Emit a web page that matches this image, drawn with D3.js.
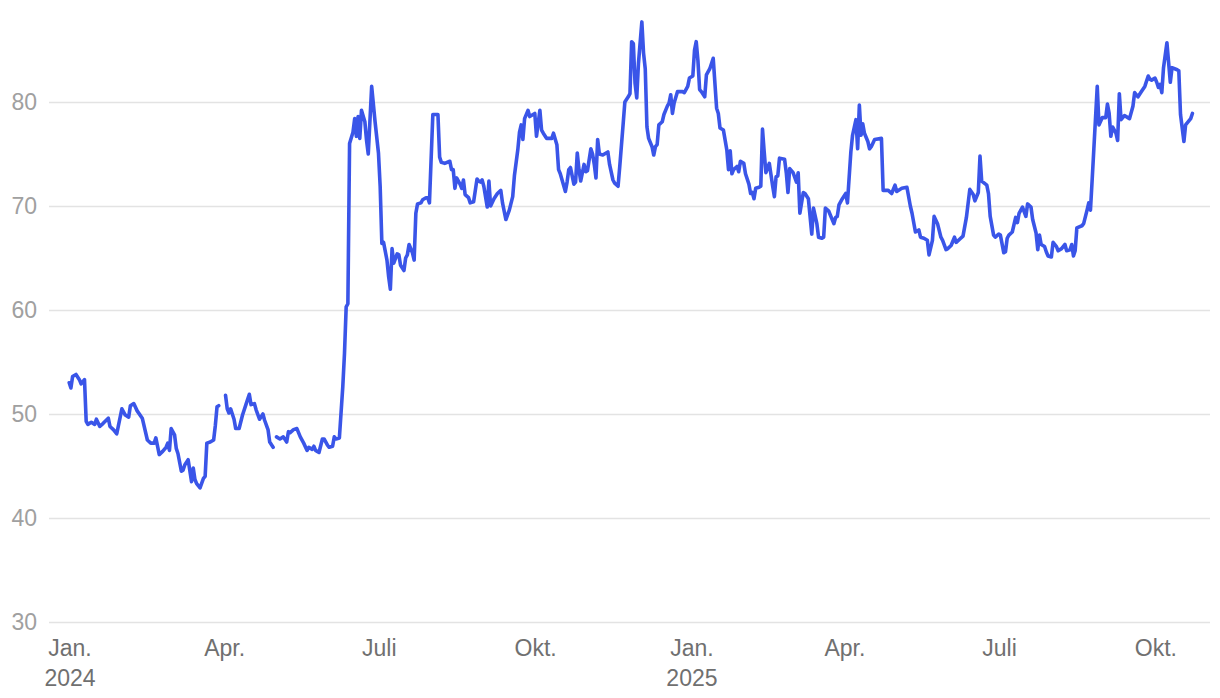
<!DOCTYPE html>
<html><head><meta charset="utf-8">
<script src="https://cdn.jsdelivr.net/npm/d3@7"></script>
<style>
html,body{margin:0;padding:0;background:#fff;}
svg{display:block;font-family:"Helvetica Neue",Helvetica,"Liberation Sans",Arial,sans-serif;}
</style></head><body>
<svg id="chart" width="1220" height="698"></svg>
<script>
// ---- data (date, value); null marks a gap in the line ----
const q1_2024 = [
["2024-01-02",53.0],["2024-01-03",52.5],["2024-01-04",53.6],["2024-01-06",53.8],["2024-01-08",53.3],["2024-01-09",52.9],["2024-01-11",53.3],["2024-01-12",49.3],["2024-01-13",49.0],["2024-01-15",49.2],["2024-01-17",49.0],["2024-01-18",49.5],["2024-01-20",48.8],["2024-01-22",49.1],["2024-01-25",49.6],["2024-01-26",48.8],["2024-01-28",48.5],["2024-01-30",48.1],["2024-01-31",48.9],
["2024-02-02",50.5],["2024-02-04",49.9],["2024-02-06",49.7],["2024-02-07",50.8],["2024-02-09",51.0],["2024-02-11",50.3],["2024-02-14",49.6],["2024-02-17",47.5],["2024-02-19",47.2],["2024-02-21",47.2],["2024-02-22",47.7],["2024-02-24",46.1],["2024-02-26",46.4],["2024-02-28",46.8],["2024-02-29",47.2],
["2024-03-01",46.5],["2024-03-02",48.6],["2024-03-04",48.0],["2024-03-05",46.7],["2024-03-06",46.2],["2024-03-08",44.5],["2024-03-09",44.6],["2024-03-10",45.1],["2024-03-12",45.6],["2024-03-14",43.5],["2024-03-15",44.8],["2024-03-16",43.7],["2024-03-17",43.3],["2024-03-19",42.9],["2024-03-21",43.8],["2024-03-22",44.0],["2024-03-23",47.2],["2024-03-25",47.3],["2024-03-27",47.5],["2024-03-28",48.9],["2024-03-29",50.7],["2024-03-30",50.8],
["2024-04-01",null]
];
const q2_2024 = [
["2024-04-03",51.8],["2024-04-04",50.5],["2024-04-05",50.1],["2024-04-06",50.5],["2024-04-08",49.5],["2024-04-09",48.6],["2024-04-11",48.6],["2024-04-13",49.9],["2024-04-15",50.9],["2024-04-17",51.9],["2024-04-18",50.9],["2024-04-20",51.0],["2024-04-21",50.4],["2024-04-23",49.5],["2024-04-25",50.0],["2024-04-26",49.4],["2024-04-28",48.5],["2024-04-29",47.3],["2024-05-01",46.8],
["2024-05-02",null],
["2024-05-03",47.8],["2024-05-05",47.6],["2024-05-07",47.8],["2024-05-09",47.3],["2024-05-10",48.3],["2024-05-11",48.2],["2024-05-13",48.5],["2024-05-15",48.6],["2024-05-17",47.8],["2024-05-19",47.2],["2024-05-21",46.5],["2024-05-22",46.8],["2024-05-24",46.6],["2024-05-25",46.9],["2024-05-26",46.5],["2024-05-28",46.3],["2024-05-30",47.6],["2024-05-31",47.6],
["2024-06-02",47.0],["2024-06-03",46.8],["2024-06-05",46.9],["2024-06-06",47.8],["2024-06-07",47.6],["2024-06-09",47.7],["2024-06-11",52.6],["2024-06-12",55.8],["2024-06-13",60.3],["2024-06-14",60.6],["2024-06-15",76.0],["2024-06-17",77.1],["2024-06-18",78.4],["2024-06-19",76.7],["2024-06-20",78.6],["2024-06-21",76.5],["2024-06-22",79.2],["2024-06-24",78.1],["2024-06-25",76.3],["2024-06-26",75.0],["2024-06-28",81.5],["2024-06-30",78.1]
];
const q3_2024 = [
["2024-07-02",75.1],["2024-07-03",71.9],["2024-07-04",66.4],["2024-07-05",66.5],["2024-07-07",64.8],["2024-07-08",63.2],["2024-07-09",62.0],["2024-07-10",65.9],["2024-07-11",64.5],["2024-07-13",65.4],["2024-07-14",65.3],["2024-07-15",64.3],["2024-07-17",63.8],["2024-07-18",65.0],["2024-07-19",65.3],["2024-07-20",66.3],["2024-07-22",65.5],["2024-07-23",64.8],["2024-07-24",69.3],["2024-07-25",70.2],["2024-07-27",70.3],["2024-07-28",70.6],["2024-07-30",70.8],["2024-07-31",70.8],
["2024-08-01",70.3],["2024-08-03",78.8],["2024-08-06",78.8],["2024-08-07",74.7],["2024-08-08",74.2],["2024-08-10",74.1],["2024-08-13",74.3],["2024-08-14",73.5],["2024-08-15",73.5],["2024-08-16",71.7],["2024-08-17",72.7],["2024-08-19",72.1],["2024-08-20",71.7],["2024-08-21",72.5],["2024-08-22",71.1],["2024-08-24",70.8],["2024-08-25",70.3],["2024-08-27",70.4],["2024-08-29",72.6],["2024-08-30",72.4],["2024-08-31",72.3],
["2024-09-01",72.5],["2024-09-02",71.9],["2024-09-04",69.9],["2024-09-05",72.4],["2024-09-06",70.0],["2024-09-08",70.7],["2024-09-10",71.2],["2024-09-12",71.5],["2024-09-13",70.3],["2024-09-15",68.7],["2024-09-17",69.6],["2024-09-19",70.9],["2024-09-20",72.9],["2024-09-22",75.4],["2024-09-23",77.1],["2024-09-24",77.8],["2024-09-25",76.4],["2024-09-26",78.4],["2024-09-28",79.2],["2024-09-29",78.6]
];
const q4_2024 = [
["2024-10-01",78.8],["2024-10-02",78.9],["2024-10-03",76.7],["2024-10-05",79.2],["2024-10-06",77.3],["2024-10-07",77.0],["2024-10-09",76.5],["2024-10-12",76.5],["2024-10-13",77.0],["2024-10-15",75.9],["2024-10-16",73.5],["2024-10-17",73.1],["2024-10-20",71.4],["2024-10-21",72.3],["2024-10-22",73.5],["2024-10-23",73.7],["2024-10-25",72.1],["2024-10-26",72.3],["2024-10-27",75.1],["2024-10-28",73.5],["2024-10-29",72.4],["2024-10-31",74.0],
["2024-11-01",73.3],["2024-11-02",73.4],["2024-11-04",75.5],["2024-11-05",75.0],["2024-11-06",74.0],["2024-11-07",72.7],["2024-11-08",76.4],["2024-11-09",75.0],["2024-11-11",74.9],["2024-11-14",75.2],["2024-11-15",74.0],["2024-11-17",72.5],["2024-11-18",72.2],["2024-11-20",71.9],["2024-11-21",73.8],["2024-11-23",77.9],["2024-11-24",80.0],["2024-11-26",80.5],["2024-11-27",80.8],["2024-11-28",85.8],["2024-11-29",85.6],["2024-11-30",81.8],
["2024-12-01",80.4],["2024-12-02",83.7],["2024-12-04",87.7],["2024-12-05",84.7],["2024-12-06",83.2],["2024-12-07",77.6],["2024-12-08",76.5],["2024-12-10",75.7],["2024-12-11",74.9],["2024-12-12",75.7],["2024-12-13",75.9],["2024-12-14",77.8],["2024-12-16",78.1],["2024-12-17",78.8],["2024-12-19",79.6],["2024-12-20",79.9],["2024-12-21",80.7],["2024-12-22",78.9],["2024-12-23",79.9],["2024-12-25",81.0],["2024-12-28",81.0],["2024-12-29",80.9],["2024-12-31",81.5]
];
const q1_2025 = [
["2025-01-01",82.3],["2025-01-03",82.5],["2025-01-04",85.0],["2025-01-05",85.8],["2025-01-06",84.0],["2025-01-07",81.2],["2025-01-08",81.0],["2025-01-10",80.5],["2025-01-11",82.6],["2025-01-13",83.2],["2025-01-15",84.2],["2025-01-17",79.4],["2025-01-18",78.9],["2025-01-19",77.5],["2025-01-21",77.3],["2025-01-23",75.4],["2025-01-24",73.5],["2025-01-25",75.3],["2025-01-26",73.1],["2025-01-27",73.5],["2025-01-29",73.8],["2025-01-30",73.3],["2025-01-31",74.3],
["2025-02-02",74.1],["2025-02-03",73.1],["2025-02-05",72.1],["2025-02-06",71.2],["2025-02-07",71.3],["2025-02-08",70.7],["2025-02-09",71.7],["2025-02-11",71.8],["2025-02-12",71.9],["2025-02-13",77.4],["2025-02-14",75.2],["2025-02-15",73.2],["2025-02-17",74.1],["2025-02-18",73.0],["2025-02-19",71.9],["2025-02-20",70.9],["2025-02-21",72.8],["2025-02-22",72.9],["2025-02-23",74.6],["2025-02-26",74.5],["2025-02-27",73.2],["2025-02-28",71.3],
["2025-03-01",73.6],["2025-03-03",73.2],["2025-03-05",72.3],["2025-03-06",73.2],["2025-03-07",69.3],["2025-03-09",71.3],["2025-03-10",71.2],["2025-03-12",70.7],["2025-03-14",67.3],["2025-03-15",69.8],["2025-03-17",68.3],["2025-03-18",67.0],["2025-03-20",66.9],["2025-03-21",67.0],["2025-03-22",69.8],["2025-03-24",69.5],["2025-03-27",68.3],["2025-03-28",68.9],["2025-03-29",69.0],["2025-03-30",70.1]
];
const q2_2025 = [
["2025-04-01",70.7],["2025-04-03",71.2],["2025-04-04",70.3],["2025-04-06",75.2],["2025-04-07",76.8],["2025-04-09",78.3],["2025-04-10",75.5],["2025-04-11",79.7],["2025-04-12",76.8],["2025-04-13",77.9],["2025-04-14",77.0],["2025-04-16",76.2],["2025-04-17",75.5],["2025-04-18",75.7],["2025-04-20",76.4],["2025-04-24",76.5],["2025-04-25",71.5],["2025-04-28",71.5],["2025-04-30",71.2],
["2025-05-02",72.0],["2025-05-03",71.4],["2025-05-06",71.7],["2025-05-09",71.8],["2025-05-11",70.0],["2025-05-12",69.3],["2025-05-14",67.5],["2025-05-16",67.7],["2025-05-17",67.0],["2025-05-19",66.9],["2025-05-21",66.7],["2025-05-22",65.3],["2025-05-24",66.7],["2025-05-25",69.0],["2025-05-27",68.3],["2025-05-29",67.0],["2025-05-30",66.7],
["2025-06-01",65.8],["2025-06-02",65.9],["2025-06-04",66.2],["2025-06-06",67.0],["2025-06-07",66.5],["2025-06-09",66.8],["2025-06-11",67.1],["2025-06-13",68.9],["2025-06-15",71.6],["2025-06-17",71.1],["2025-06-18",70.5],["2025-06-20",71.3],["2025-06-21",74.8],["2025-06-22",72.4],["2025-06-25",72.0],["2025-06-26",71.2],["2025-06-27",69.0],["2025-06-29",67.2],["2025-06-30",67.0]
];
const q3_2025 = [
["2025-07-02",67.3],["2025-07-03",67.2],["2025-07-05",65.5],["2025-07-06",65.6],["2025-07-07",66.9],["2025-07-08",67.2],["2025-07-10",67.5],["2025-07-12",68.9],["2025-07-13",68.4],["2025-07-14",69.3],["2025-07-16",69.9],["2025-07-18",69.0],["2025-07-19",70.2],["2025-07-21",69.9],["2025-07-22",68.7],["2025-07-24",67.4],["2025-07-25",65.8],["2025-07-26",67.2],["2025-07-27",66.3],["2025-07-29",66.1],["2025-07-30",65.6],["2025-07-31",65.2],
["2025-08-02",65.1],["2025-08-03",66.5],["2025-08-05",66.1],["2025-08-06",65.7],["2025-08-08",65.9],["2025-08-10",66.3],["2025-08-11",65.7],["2025-08-13",65.8],["2025-08-14",66.3],["2025-08-15",65.2],["2025-08-16",65.7],["2025-08-17",67.9],["2025-08-20",68.1],["2025-08-21",68.3],["2025-08-23",69.6],["2025-08-24",70.3],["2025-08-25",69.6],["2025-08-26",72.5],["2025-08-27",75.5],["2025-08-29",81.5],["2025-08-30",77.8],
["2025-09-01",78.5],["2025-09-03",78.5],["2025-09-04",79.8],["2025-09-05",78.9],["2025-09-06",76.7],["2025-09-07",77.6],["2025-09-09",77.0],["2025-09-10",76.3],["2025-09-11",80.8],["2025-09-12",78.3],["2025-09-14",78.7],["2025-09-16",78.5],["2025-09-17",78.4],["2025-09-19",79.6],["2025-09-20",80.9],["2025-09-22",80.5],["2025-09-24",81.0],["2025-09-26",81.5],["2025-09-28",82.5],["2025-09-29",82.2],["2025-09-30",82.1]
];
const q4_2025 = [
["2025-10-02",82.3],["2025-10-03",81.9],["2025-10-04",81.4],["2025-10-05",81.7],["2025-10-06",80.9],["2025-10-07",83.3],["2025-10-09",85.7],["2025-10-11",81.9],["2025-10-12",83.3],["2025-10-15",83.1],["2025-10-16",83.0],["2025-10-17",78.8],["2025-10-19",76.2],["2025-10-20",77.8],["2025-10-23",78.4],["2025-10-24",78.9]
];

const yTicks = [30, 40, 50, 60, 70, 80];
const xTickDates = ["2024-01-01","2024-04-01","2024-07-01","2024-10-01","2025-01-01","2025-04-01","2025-07-01","2025-10-01"];
const xMonthLabels = ["Jan.","Apr.","Juli","Okt.","Jan.","Apr.","Juli","Okt."];
const xYearLabels = ["2024","","","","2025","","",""];
const xDomain = ["2024-01-01","2025-11-01"];
const yDomain = [30, 80];

// ---- build ----
const parse = d3.utcParse("%Y-%m-%d");
const data = [].concat(q1_2024, q2_2024, q3_2024, q4_2024, q1_2025, q2_2025, q3_2025, q4_2025)
  .map(([d, v]) => ({ date: parse(d), value: v }));

const svg = d3.select("#chart");
const gridLeft = 49, gridRight = 1210;

const x = d3.scaleUtc().domain(xDomain.map(parse)).range([67.5, 1206]);
const y = d3.scaleLinear().domain(yDomain).range([622, 102]);

// y axis with gridlines
const yAxis = d3.axisLeft(y).tickValues(yTicks).tickSize(-(gridRight - gridLeft)).tickPadding(12).tickFormat(d3.format("d"));
const gy = svg.append("g").attr("transform", `translate(${gridLeft},0)`).call(yAxis);
gy.select(".domain").remove();
gy.selectAll(".tick line").attr("stroke", "#e3e3e3").attr("stroke-width", 1.6);
gy.selectAll(".tick text").attr("fill", "#a0a0a0").attr("font-size", 23)
  .attr("font-family", "'Helvetica Neue',Helvetica,'Liberation Sans',Arial,sans-serif");

// x axis (month + year labels)
const tickDates = xTickDates.map(parse);
const xAxis = d3.axisBottom(x).tickValues(tickDates).tickSize(0).tickPadding(0).tickFormat("");
const gx = svg.append("g").attr("transform", "translate(2,622)").call(xAxis);
gx.select(".domain").remove();
gx.selectAll(".tick text").remove();
gx.selectAll(".tick").each(function(d, i) {
  const t = d3.select(this).append("text")
    .attr("text-anchor", "middle").attr("fill", "#707070").attr("font-size", 23)
    .attr("font-family", "'Helvetica Neue',Helvetica,'Liberation Sans',Arial,sans-serif");
  t.append("tspan").attr("x", 0).attr("y", 34).text(xMonthLabels[i]);
  if (xYearLabels[i]) t.append("tspan").attr("x", 0).attr("y", 64).text(xYearLabels[i]);
});

// line
const line = d3.line()
  .defined(d => d.value != null)
  .x(d => x(d.date))
  .y(d => y(d.value));

svg.append("path")
  .datum(data)
  .attr("fill", "none")
  .attr("stroke", "#3a55e8")
  .attr("stroke-width", 3.6)
  .attr("stroke-linejoin", "round")
  .attr("stroke-linecap", "round")
  .attr("d", line);
</script>
</body></html>
